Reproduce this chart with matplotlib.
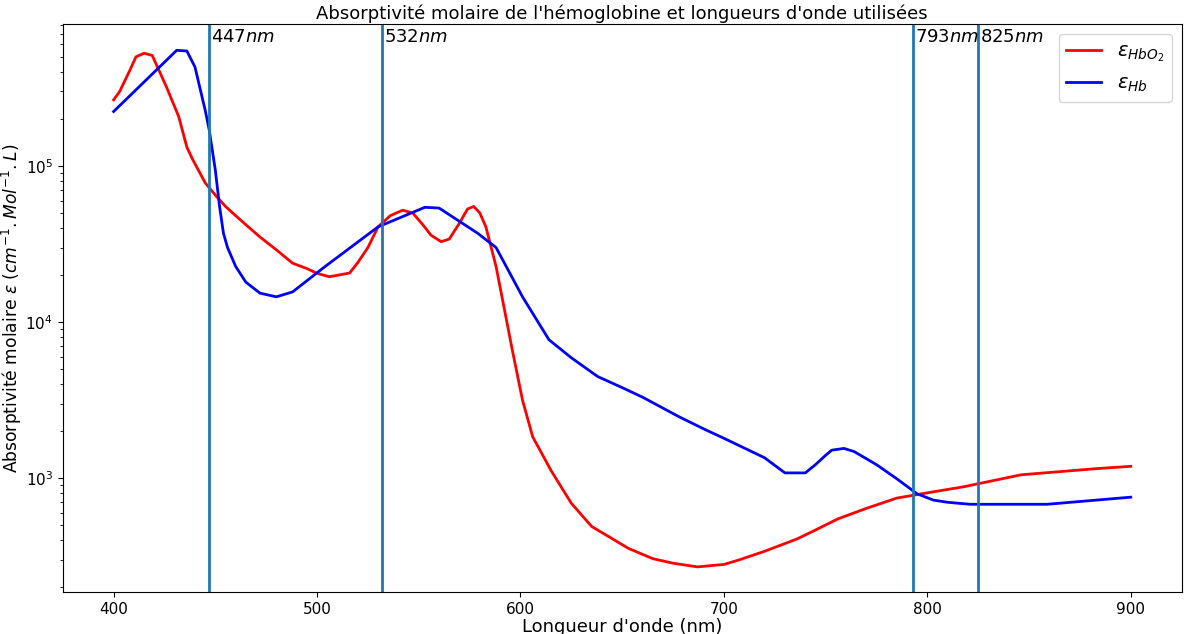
import matplotlib
matplotlib.use("Agg")
import matplotlib.pyplot as plt
import matplotlib.transforms as mtransforms

# Data
wl_hbo2 = [400, 403, 408, 411, 415, 419, 426, 432, 436, 439, 445, 450, 455, 460, 465,
           472, 480, 488, 495, 500, 506, 516, 520, 525, 530, 536, 542, 547, 552, 556,
           561, 565, 570, 574, 577, 580, 583, 588, 596, 601, 606, 615, 625, 635, 645,
           653, 665, 675, 687, 700, 707, 720, 736, 745, 756, 770, 785, 800, 818, 846,
           883, 900]
eps_hbo2 = [2.65e5, 3.0e5, 4.1e5, 5.0e5, 5.27e5, 5.1e5, 3.2e5, 2.07e5, 1.32e5, 1.09e5,
            7.8e4, 6.5e4, 5.5e4, 4.8e4, 4.2e4, 3.5e4, 2.9e4, 2.38e4, 2.2e4, 2.05e4,
            1.95e4, 2.06e4, 2.4e4, 3.0e4, 4.07e4, 4.8e4, 5.2e4, 5.0e4, 4.2e4, 3.6e4,
            3.27e4, 3.4e4, 4.3e4, 5.3e4, 5.5e4, 5.0e4, 4.07e4, 2.27e4, 6.6e3, 3.16e3,
            1.84e3, 1.12e3, 690, 490, 410, 355, 305, 285, 270, 280, 298, 340, 408, 465,
            548, 640, 745, 805, 881, 1050, 1150, 1190]

wl_hb = [400, 431, 436, 440, 445, 447, 450, 452, 454, 456, 460, 465, 472, 480, 488,
         504, 530, 553, 560, 579, 588, 601, 614, 625, 638, 650, 660, 678, 691, 700,
         720, 730, 740, 745, 750, 753, 759, 764, 775, 785, 795, 803, 810, 821, 859,
         883, 900]
eps_hb = [2.23e5, 5.5e5, 5.45e5, 4.3e5, 2.28e5, 1.7e5, 9.4e4, 5.6e4, 3.7e4, 3.0e4,
          2.27e4, 1.8e4, 1.53e4, 1.45e4, 1.56e4, 2.27e4, 4.07e4, 5.43e4, 5.37e4, 3.7e4,
          3.0e4, 1.45e4, 7.7e3, 5.9e3, 4.47e3, 3.8e3, 3.3e3, 2.47e3, 2.04e3, 1.8e3,
          1.35e3, 1.08e3, 1.08e3, 1.22e3, 1.4e3, 1.51e3, 1.55e3, 1.48e3, 1.22e3, 990,
          793, 723, 700, 680, 680, 723, 755]

lasers = [447, 532, 793, 825]
laser_labels = ["447$nm$", "532$nm$", "793$nm$", "825$nm$"]

fig = plt.figure(figsize=(11.84, 6.34), dpi=100)
ax = fig.add_axes([0.053, 0.066, 0.945, 0.896])

ax.plot(wl_hbo2, eps_hbo2, color="red", lw=2, label=r"$\epsilon_{HbO_2}$")
ax.plot(wl_hb, eps_hb, color="blue", lw=2, label=r"$\epsilon_{Hb}$")
ax.set_yscale("log")

trans = mtransforms.blended_transform_factory(ax.transData, ax.transAxes)
for x, lab in zip(lasers, laser_labels):
    ax.axvline(x, color="#1f77b4", lw=2)
    ax.text(x + 0.8, 0.993, lab, transform=trans, ha="left", va="top", fontsize=13)

ax.set_xlim(375, 925)
ax.set_ylim(186, 8.1e5)
ax.set_title("Absorptivité molaire de l'hémoglobine et longueurs d'onde utilisées",
             fontsize=13, pad=4)
ax.set_xlabel("Longueur d'onde (nm)", fontsize=13, labelpad=1)
ax.set_ylabel(r"Absorptivité molaire $\epsilon$ $(cm^{-1}.Mol^{-1}.L)$", fontsize=12.3,
              labelpad=1)
ax.tick_params(labelsize=11)
ax.legend(loc="upper right", fontsize=14, handlelength=1.8)

fig.savefig("out.png", dpi=100)
